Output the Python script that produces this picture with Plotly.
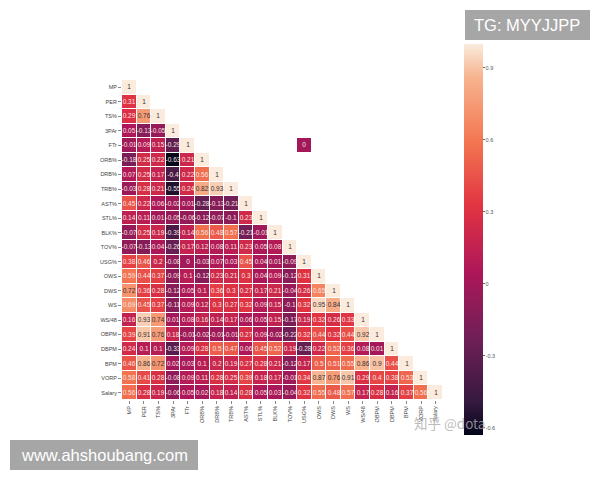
import plotly.graph_objects as go

labels = ["MP","PER","TS%","3PAr","FTr","ORB%","DRB%","TRB%","AST%","STL%","BLK%","TOV%","USG%",
          "OWS","DWS","WS","WS/48","OBPM","DBPM","BPM","VORP","Salary"]
lower_rows = [
 [1],
 [.31,1],
 [.29,.76,1],
 [.05,-.13,-.05,1],
 [-.01,.09,.15,-.29,1],
 [-.18,.25,.22,-.63,.21,1],
 [.07,.25,.17,-.4,.22,.56,1],
 [-.03,.28,.21,-.55,.24,.82,.93,1],
 [.45,.22,.06,-.02,.01,-.28,-.13,-.21,1],
 [.14,.11,.01,-.05,-.06,-.12,-.07,-.1,.23,1],
 [-.07,.25,.19,-.39,.14,.56,.48,.57,-.21,-.01,1],
 [-.07,-.13,.04,-.26,.17,.12,.08,.11,.23,.05,.08,1],
 [.38,.46,.2,-.08,0,-.03,.07,.03,.45,.04,.01,-.09,1],
 [.59,.44,.37,-.09,.1,-.12,.23,.21,.3,.04,.09,-.12,.31,1],
 [.72,.36,.28,-.12,.05,.1,.36,.3,.27,.17,.21,-.04,.26,.65,1],
 [.69,.45,.37,-.11,.09,.12,.3,.27,.32,.09,.15,-.1,.32,.95,.84,1],
 [.16,.93,.74,.01,.08,.16,.14,.17,.06,.05,.15,-.17,.19,.32,.26,.33,1],
 [.39,.91,.76,.18,-.01,-.02,-.01,-.01,.27,.09,-.02,-.22,.32,.44,.32,.44,.92,1],
 [.24,.1,.1,-.33,.09,.28,.5,.47,.06,.45,.52,.19,-.28,.22,.52,.36,.08,.01,1],
 [.46,.86,.72,.02,.03,.1,.2,.19,.27,.28,.21,-.12,.17,.5,.51,.55,.86,.9,.44,1],
 [.58,.41,.28,-.08,.09,.11,.28,.25,.39,.18,.17,-.01,.34,.87,.76,.91,.29,.4,.38,.53,1],
 [.56,.28,.19,-.06,.05,.02,.18,.14,.28,.05,.03,-.04,.32,.55,.48,.57,.17,.28,.16,.37,.56,1],
]
stray_row = "FTr"
stray_col = "USG%"
stray_value = 0
cbar_ticks = [-0.6,-0.3,0,0.3,0.6,0.9]

n = len(labels)
z = [r + [None]*(n-len(r)) for r in lower_rows]
z[labels.index(stray_row)][labels.index(stray_col)] = stray_value
CUT = 0.7
z_low = [[v if v is not None and v < CUT else None for v in r] for r in z]
z_high = [[v if v is not None and v >= CUT else None for v in r] for r in z]
def fmt(m):
    return [["" if v is None else f"{v:g}" for v in r] for r in m]

rocket = [[0,"#03051a"],[1/12,"#35193e"],[3/12,"#701f57"],[5/12,"#ad1759"],[7/12,"#e13342"],
          [9/12,"#f37651"],[11/12,"#f6b48f"],[1,"#faebdd"]]

# page body has an 8px offset: all pixel positions below are minus that offset
OFF = 8
L, T, W, H = 122-OFF, 80-OFF, 321, 320
def px(x): return (x-OFF-L)/W
def py(y): return (T+H-(y-OFF))/H

fig = go.Figure()
fig.add_trace(go.Heatmap(
    z=z_low, x=labels, y=labels, text=fmt(z_low), texttemplate="%{text}",
    textfont=dict(size=6.5, family="Liberation Sans", color="#f5e6e0"),
    colorscale=rocket, zmin=-0.63, zmax=1, xgap=1, ygap=1, hoverongaps=False,
    colorbar=dict(x=px(464), xanchor="left", xpad=0, y=py(239.5), yanchor="middle", ypad=0,
                  lenmode="pixels", len=391, thicknessmode="pixels", thickness=19,
                  outlinewidth=0, tickvals=cbar_ticks, ticktext=[f"{t:g}" for t in cbar_ticks],
                  ticks="outside", ticklen=2, tickwidth=0.6, tickcolor="#666",
                  tickfont=dict(size=5.5, color="#555", family="Liberation Sans")),
))
fig.add_trace(go.Heatmap(
    z=z_high, x=labels, y=labels, text=fmt(z_high), texttemplate="%{text}",
    textfont=dict(size=6.5, family="Liberation Sans", color="#3a3030"),
    colorscale=rocket, zmin=-0.63, zmax=1, xgap=1, ygap=1, hoverongaps=False, showscale=False,
))
fig.update_layout(
    width=600, height=480, margin=dict(l=L, r=600-L-W, t=T, b=480-T-H),
    paper_bgcolor="white", plot_bgcolor="white",
    font=dict(family="Liberation Sans"),
    xaxis=dict(type="category", categoryorder="array", categoryarray=labels, tickangle=-90, ticks="outside",
               ticklen=3, tickwidth=0.6, tickcolor="#888",
               tickfont=dict(size=5.5, color="#444"), showgrid=False, zeroline=False, showline=False),
    yaxis=dict(type="category", categoryorder="array", categoryarray=labels, autorange="reversed", ticks="outside",
               ticklen=3, tickwidth=0.6, tickcolor="#888",
               tickfont=dict(size=5.5, color="#444"), showgrid=False, zeroline=False, showline=False),
    shapes=[
        dict(type="rect", xref="paper", yref="paper", layer="above", line_width=0, fillcolor="#a6a6a6",
             x0=px(465), x1=px(590), y0=py(40), y1=py(10)),
        dict(type="rect", xref="paper", yref="paper", layer="above", line_width=0, fillcolor="#a6a6a6",
             x0=px(10), x1=px(198), y0=py(470), y1=py(440)),
    ],
    annotations=[
        dict(text="TG: MYYJJPP", xref="paper", yref="paper", x=px(527), y=py(25), showarrow=False,
             xanchor="center", yanchor="middle",
             font=dict(size=16.5, color="white", family="Liberation Sans")),
        dict(text="www.ahshoubang.com", xref="paper", yref="paper", x=px(104), y=py(455), showarrow=False,
             xanchor="center", yanchor="middle",
             font=dict(size=16.5, color="white", family="Liberation Sans")),
        dict(text="知乎 @dota", xref="paper", yref="paper", x=px(450), y=py(423), showarrow=False,
             xanchor="center", yanchor="middle",
             font=dict(size=13.5, color="rgba(170,170,170,0.8)", family="Noto Sans CJK SC")),
    ],
)
fig.write_html("out.html")
